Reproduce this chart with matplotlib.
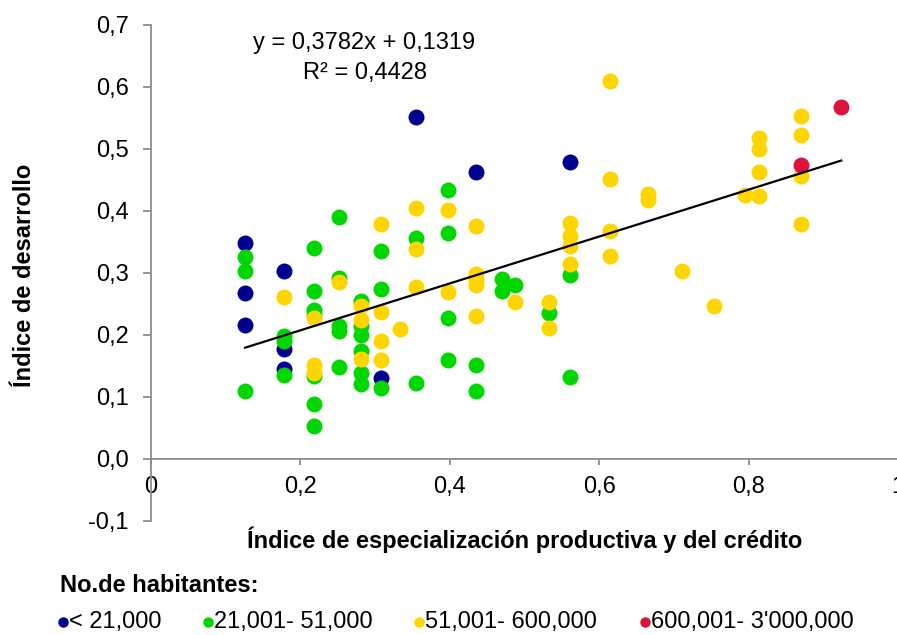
# =========================
# IMPORTS
# =========================
import matplotlib
matplotlib.use("Agg")
import matplotlib.pyplot as plt
from matplotlib.ticker import FuncFormatter
from matplotlib.lines import Line2D

# =========================
# DATA
# =========================
# < 21,000
blue_x = [0.126, 0.126, 0.126, 0.178, 0.178, 0.178, 0.308, 0.355, 0.435, 0.561]
blue_y = [0.349, 0.267, 0.216, 0.304, 0.177, 0.145, 0.130, 0.551, 0.463, 0.479]

# 21,001 - 51,000
green_x = [0.126, 0.126, 0.126,
           0.178, 0.178, 0.178,
           0.218, 0.218, 0.218, 0.218, 0.218, 0.218, 0.218,
           0.252, 0.252, 0.252, 0.252, 0.252,
           0.281, 0.281, 0.281, 0.281, 0.281, 0.281,
           0.308, 0.308, 0.308,
           0.355, 0.355,
           0.398, 0.398, 0.398, 0.398,
           0.435, 0.435,
           0.470, 0.470,
           0.487,
           0.533,
           0.561, 0.561]
green_y = [0.326, 0.304, 0.110,
           0.199, 0.191, 0.135,
           0.341, 0.271, 0.241, 0.232, 0.134, 0.089, 0.053,
           0.390, 0.292, 0.215, 0.207, 0.149,
           0.255, 0.215, 0.200, 0.174, 0.138, 0.121,
           0.335, 0.274, 0.115,
           0.356, 0.123,
           0.434, 0.364, 0.228, 0.159,
           0.152, 0.109,
           0.290, 0.271,
           0.280,
           0.235,
           0.297, 0.132]

# 51,001 - 600,000
yellow_x = [0.178,
            0.218, 0.218, 0.218,
            0.252,
            0.281, 0.281, 0.281,
            0.308, 0.308, 0.308, 0.308,
            0.333,
            0.355, 0.355, 0.355,
            0.398, 0.398,
            0.435, 0.435, 0.435, 0.435, 0.435,
            0.487,
            0.533, 0.533,
            0.561, 0.561, 0.561, 0.561,
            0.615, 0.615, 0.615, 0.615,
            0.665, 0.665,
            0.711,
            0.754,
            0.795,
            0.814, 0.814, 0.814, 0.814,
            0.870, 0.870, 0.870, 0.870]
yellow_y = [0.261,
            0.227, 0.152, 0.138,
            0.285,
            0.247, 0.224, 0.162,
            0.379, 0.237, 0.191, 0.159,
            0.209,
            0.405, 0.339, 0.278,
            0.402, 0.270,
            0.376, 0.298, 0.288, 0.280, 0.231,
            0.254,
            0.253, 0.211,
            0.381, 0.360, 0.344, 0.315,
            0.609, 0.452, 0.368, 0.328,
            0.427, 0.417,
            0.303,
            0.247,
            0.426,
            0.517, 0.500, 0.463, 0.425,
            0.553, 0.523, 0.457, 0.379]

# 600,001 - 3'000,000
red_x = [0.870, 0.924]
red_y = [0.474, 0.568]

# trend line
slope = 0.3782
intercept = 0.1319
r2 = 0.4428

labels = ["< 21,000", "21,001- 51,000", "51,001- 600,000", "600,001- 3'000,000"]
colors = ["#000090", "#00d600", "#ffd500", "#dc143c"]

# =========================
# PLOT
# =========================
plt.rcParams["font.family"] = ["Liberation Sans", "DejaVu Sans"]
FS = 17

W, H = 897, 635
fig = plt.figure(figsize=(W / 100, H / 100), dpi=100)
ax = fig.add_axes([151 / W, 1 - 521 / H, 747 / W, 496 / H])

ms = 11.5
series = [(blue_x, blue_y), (green_x, green_y), (yellow_x, yellow_y), (red_x, red_y)]
for (xs, ys), c in zip(series, colors):
    ax.plot(xs, ys, "o", color=c, markersize=ms, markeredgewidth=0, zorder=3)

all_x = blue_x + green_x + yellow_x + red_x
x0, x1 = min(all_x), max(all_x)
ax.plot([x0, x1], [slope * x0 + intercept, slope * x1 + intercept],
        color="black", linewidth=1.6, zorder=4)

# equation
eq = "y = %s x + %s" % (str(slope).replace(".", ","), str(intercept).replace(".", ","))
eq = eq.replace(" x", "x")
fig.text(364 / W, 1 - 43 / H, eq, ha="center", va="center", fontsize=FS)
fig.text(365 / W, 1 - 73 / H, "R² = " + str(r2).replace(".", ","),
         ha="center", va="center", fontsize=FS)

# axes styling
ax.set_xlim(0, 1)
ax.set_ylim(-0.1, 0.7)
ax.set_xticks([0, 0.2, 0.4, 0.6, 0.8, 1.0])
ax.set_yticks([-0.1, 0, 0.1, 0.2, 0.3, 0.4, 0.5, 0.6, 0.7])
ax.xaxis.set_major_formatter(FuncFormatter(lambda v, p: ("%g" % round(v, 1)).replace(".", ",")))
ax.yaxis.set_major_formatter(FuncFormatter(lambda v, p: ("%.1f" % v).replace(".", ",")))

for s in ["top", "right"]:
    ax.spines[s].set_visible(False)
ax.spines["bottom"].set_position(("data", 0))
ax.spines["left"].set_position(("data", 0))
for s in ["bottom", "left"]:
    ax.spines[s].set_color("#8c8c8c")
    ax.spines[s].set_linewidth(1.3)
ax.tick_params(axis="both", colors="#8c8c8c", width=1.3,
               labelcolor="black", labelsize=FS)
ax.tick_params(axis="x", length=4, pad=8)
ax.tick_params(axis="y", length=6, pad=10)
ax.patch.set_visible(False)

# labels
fig.text(525 / W, 1 - 540 / H, "Índice de especialización productiva y del crédito",
         ha="center", va="center", fontsize=FS, fontweight="bold")
fig.text(25 / W, 1 - 275 / H, "Índice de desarrollo", rotation=90,
         ha="center", va="center", fontsize=FS, fontweight="bold")
fig.text(60 / W, 1 - 585 / H, "No.de habitantes:",
         ha="left", va="center", fontsize=FS, fontweight="bold")

# legend
mark_x = [63, 208, 419, 645]
for mx, c, lab in zip(mark_x, colors, labels):
    fig.add_artist(Line2D([mx / W], [1 - 622 / H], marker="o", linestyle="none",
                          color=c, markersize=7.5, markeredgewidth=0,
                          transform=fig.transFigure))
    fig.text((mx + 6) / W, 1 - 622 / H, lab, ha="left", va="center", fontsize=FS)

fig.savefig("out.png", dpi=100)
